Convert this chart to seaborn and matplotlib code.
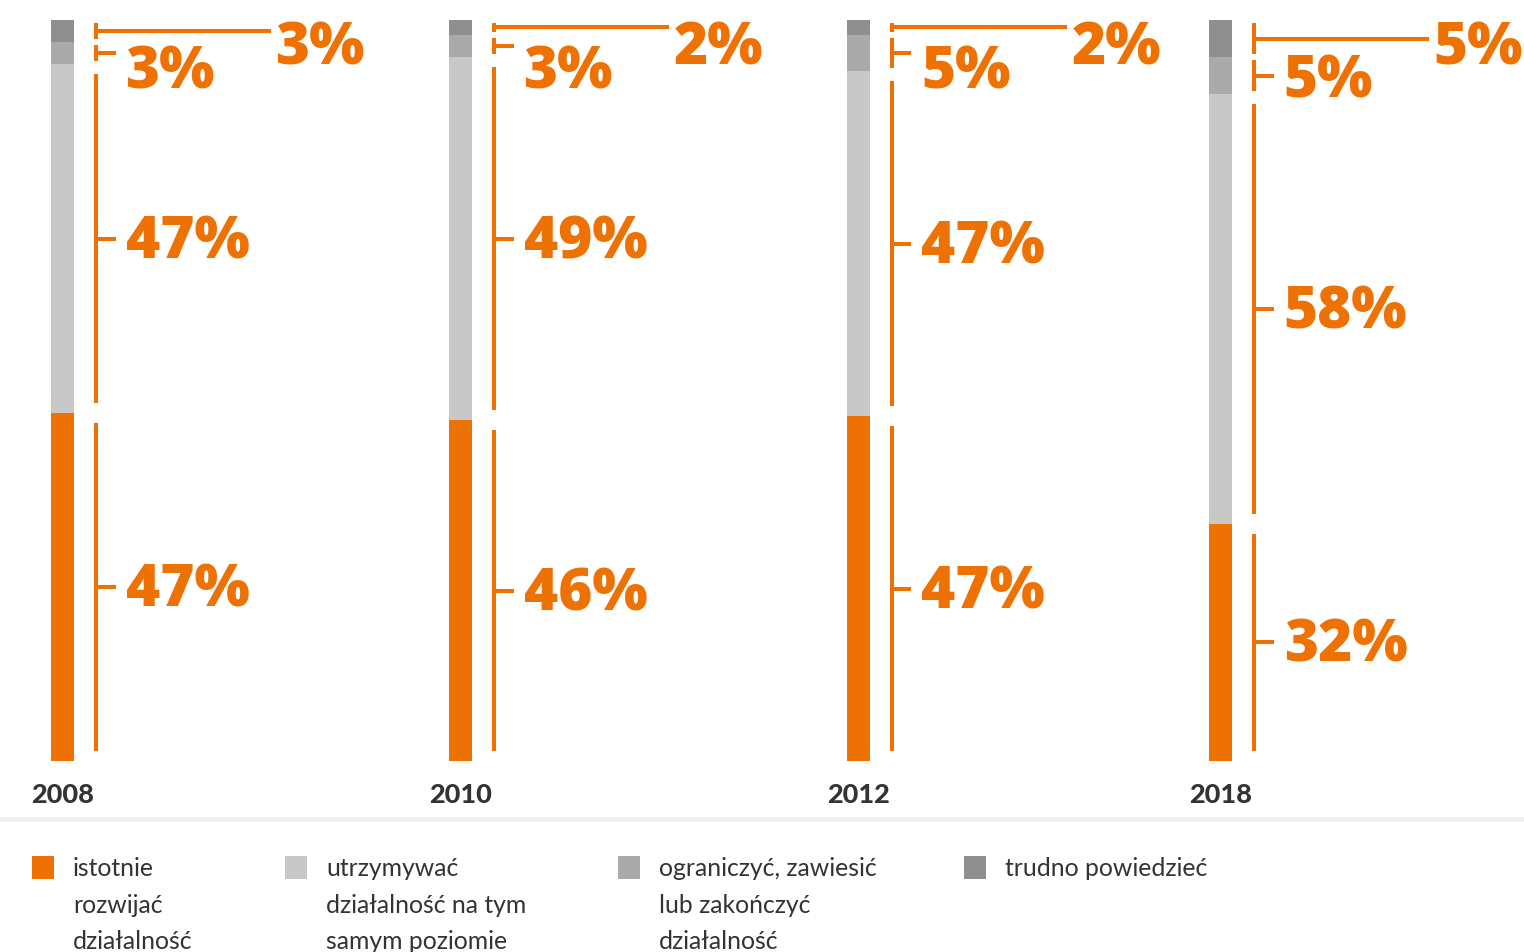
import numpy as np
import matplotlib.pyplot as plt
import seaborn as sns
from matplotlib.lines import Line2D
from matplotlib.patches import Rectangle

# Data: answers per survey year (%)
years = ['2008', '2010', '2012', '2018']
rozwijac = [47, 46, 47, 32]      # istotnie rozwijać działalność
utrzymywac = [47, 49, 47, 58]    # utrzymywać działalność na tym samym poziomie
ograniczyc = [3, 3, 5, 5]        # ograniczyć, zawiesić lub zakończyć działalność
trudno = [3, 2, 2, 5]            # trudno powiedzieć

legend_labels = ['istotnie\nrozwijać\ndziałalność',
                 'utrzymywać\ndziałalność na tym\nsamym poziomie',
                 'ograniczyć, zawiesić\nlub zakończyć\ndziałalność',
                 'trudno powiedzieć']
colors = ['#EE7203', '#C8C8C8', '#AAAAAA', '#8F8F8F']
orange = '#EE7203'

# Layout (2018 column sits a bit closer than the others)
x_pos = [0, 1, 2, 2.91]
W, H = 1524, 953
unit = 398           # pixels per x unit
u = 1 / unit         # one pixel in x units
v = 100 / 741        # one pixel in y units (%)

sns.set_theme(style='white')
plt.rcParams['font.family'] = ['Lato', 'DejaVu Sans']

fig = plt.figure(figsize=(W / 100, H / 100), dpi=100)
ax = fig.add_axes([0, 1 - 762 / H, 1, 741 / H])

values = np.array([rozwijac, utrzymywac, ograniczyc, trudno], dtype=float)
shares = values / values.sum(axis=0) * 100
cum = shares.cumsum(axis=0)

# stacked bars: draw cumulative totals from the top segment down
bar_w = 23 * u / 0.91
for k in range(3, -1, -1):
    sns.barplot(x=x_pos, y=cum[k], native_scale=True, width=bar_w,
                color=colors[k], saturation=1, linewidth=0, errorbar=None, ax=ax)

# brackets with labels
lw = 2.9
label_kw = dict(color=orange, fontsize=42, fontweight='heavy', va='center', ha='left',
                family=['Open Sans', 'Lato', 'DejaVu Sans'])
for i, x in enumerate(x_pos):
    bx = x + 33 * u
    for k in range(4):
        hi = cum[k, i]
        lo = hi - shares[k, i]
        mid = (lo + hi) / 2
        trim = 10 * v if shares[k, i] >= 10 else 3 * v
        ax.plot([bx, bx], [lo + trim, hi - trim], color=orange, lw=lw,
                solid_capstyle='butt')
        txt = f'{values[k, i]:.0f}%'
        if k == 3:
            ax.plot([bx, bx + 175 * u], [mid, mid], color=orange, lw=lw,
                    solid_capstyle='butt')
            ax.text(bx + 180 * u, min(mid, 96.2), txt, **label_kw)
        elif k == 2:
            ax.plot([bx, bx + 20 * u], [mid, mid], color=orange, lw=lw,
                    solid_capstyle='butt')
            ax.text(bx + 30 * u, min(mid - 0.7, 93), txt, **label_kw)
        else:
            ax.plot([bx, bx + 20 * u], [mid, mid], color=orange, lw=lw,
                    solid_capstyle='butt')
            ax.text(bx + 30 * u, mid - 0.4, txt, **label_kw)

ax.set_xlim(-62.5 * u, (W - 62.5) * u)
ax.set_ylim(0, 100)
ax.set_xticks(x_pos)
ax.set_xticklabels(years, fontsize=19.5, fontweight='black', color='#333333')
ax.tick_params(axis='x', length=0, pad=15)
ax.set_yticks([])
ax.set_xlabel('')
ax.set_ylabel('')
sns.despine(ax=ax, left=True, bottom=True)

# separator
fig.add_artist(Line2D([0, 1], [1 - 820 / H] * 2, transform=fig.transFigure,
                      color='#f0f0f0', lw=3.6))

# legend
legend_x = [32, 285, 618, 964]
for k, lx in enumerate(legend_x):
    fig.add_artist(Rectangle((lx / W, 1 - 880 / H), 22 / W, 23 / H,
                             transform=fig.transFigure, color=colors[k], lw=0))
    fig.text((lx + 41) / W, 1 - 857 / H, legend_labels[k], fontsize=17.8,
             color='#333333', va='top', ha='left', linespacing=1.72)

fig.savefig('out.png', dpi=100)
